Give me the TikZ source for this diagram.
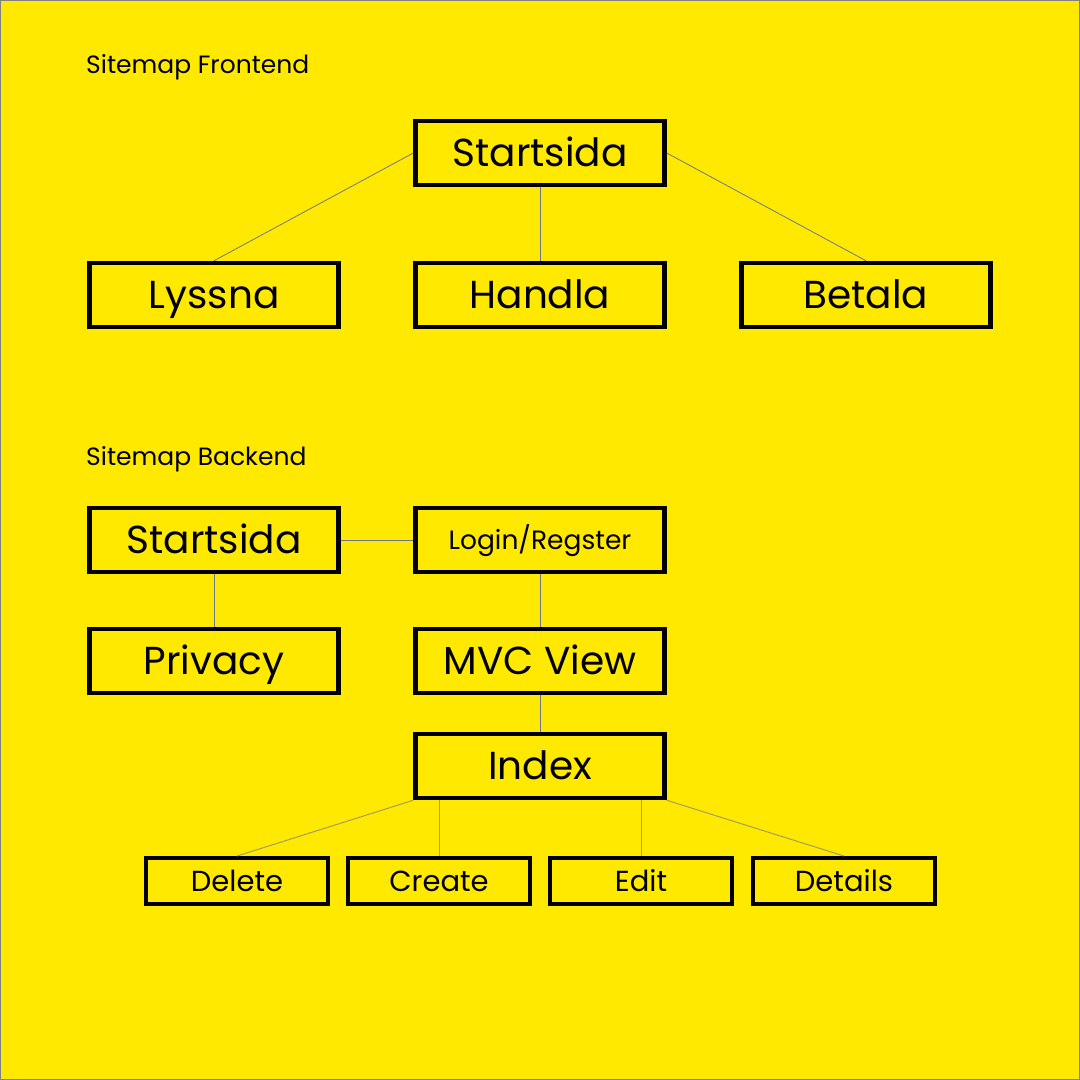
\documentclass[tikz,border=0pt]{standalone}
\usepackage{fontspec}
\setmainfont{Poppins}
\definecolor{bgyellow}{HTML}{FFE900}
\definecolor{linkgray}{HTML}{6F7590}
\definecolor{leafgray}{HTML}{A29C62}
\begin{document}
\begin{tikzpicture}[x=1pt,y=-1pt,
    page/.style={draw=gray,line width=1pt,fill=bgyellow},
    bigbox/.style={draw=black,line width=4.5pt,minimum width=249pt,minimum height=64pt,inner sep=0pt,text height=27.3pt,text depth=0pt,font=\fontsize{39}{42}\selectfont},
    smalltext/.style={text height=18.5pt,font=\fontsize{26.5}{30}\selectfont},
    leafbox/.style={draw=black,line width=4pt,minimum width=182pt,minimum height=46pt,inner sep=0pt,text height=20.3pt,text depth=0pt,font=\fontsize{29}{32}\selectfont},
    heading/.style={anchor=base west,inner sep=0pt,font=\fontsize{25}{28}\selectfont},
    link/.style={draw=linkgray,line width=0.8pt},
    leaflink/.style={draw=leafgray,line width=1pt}]
    \path[page] (0.5,0.5) rectangle (1079.5,1079.5);
    \useasboundingbox (0,0) rectangle (1080,1080);

    % frontend
    \node[heading] (fronttitle) at (86,73) {Sitemap Frontend};
    \node[bigbox] (fstart) at (540,153) {Startsida};
    \node[bigbox] (lyssna) at (214,295) {Lyssna};
    \node[bigbox] (handla) at (540,295) {Handla};
    \node[bigbox] (betala) at (866,295) {Betala};

    \draw[link] (fstart.west) -- (lyssna.north);
    \draw[link] (fstart.south) -- (handla.north);
    \draw[link] (fstart.east) -- (betala.north);

    % backend
    \node[heading] (backtitle) at (86,465) {Sitemap Backend};
    \node[bigbox] (bstart) at (214,540) {Startsida};
    \node[bigbox,smalltext] (login) at (540,540) {Login/Regster};
    \node[bigbox] (privacy) at (214,661) {Privacy};
    \node[bigbox] (mvc) at (540,661) {MVC View};
    \node[bigbox] (index) at (540,766) {Index};

    \node[leafbox] (delete) at (237,881) {Delete};
    \node[leafbox] (create) at (439,881) {Create};
    \node[leafbox] (edit) at (641,881) {Edit};
    \node[leafbox] (details) at (844,881) {Details};

    \draw[link] (bstart.east) -- (login.west);
    \draw[link] (bstart.south) -- (privacy.north);
    \draw[link] (login.south) -- (mvc.north);
    \draw[link] (mvc.south) -- (index.north);

    \draw[leaflink] (index.south west) -- (delete.north);
    \draw[leaflink] (create.north |- index.south) -- (create.north);
    \draw[leaflink] (edit.north |- index.south) -- (edit.north);
    \draw[leaflink] (index.south east) -- (details.north);
\end{tikzpicture}
\end{document}
